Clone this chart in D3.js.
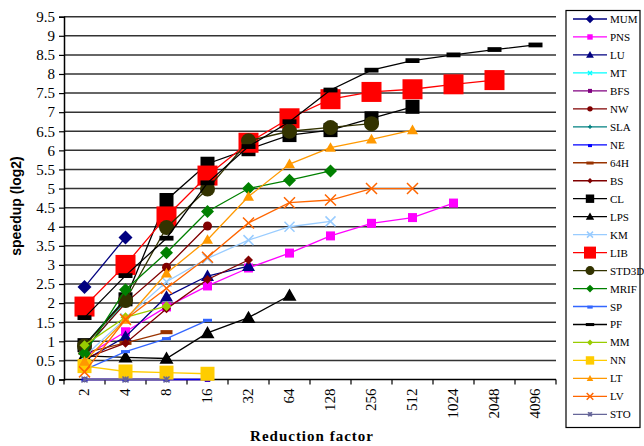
<!DOCTYPE html>
<html>
<head>
<meta charset="utf-8">
<script src="https://cdn.jsdelivr.net/npm/d3@7"></script>
<style>
  html, body { margin: 0; padding: 0; background: #fff; }
  svg { display: block; }
</style>
</head>
<body>
<svg id="chart" width="644" height="446"></svg>
<script>
// Reduction factors on the x axis
const factors = ["2", "4", "8", "16", "32", "64", "128", "256", "512", "1024", "2048", "4096"];
const yTicks = [0, 0.5, 1, 1.5, 2, 2.5, 3, 3.5, 4, 4.5, 5, 5.5, 6, 6.5, 7, 7.5, 8, 8.5, 9, 9.5];

// Speedup (log2) per benchmark, one value per reduction factor starting at 2
const MUM   = [2.42, 3.72];
const PNS   = [0.6, 1.25, 1.9, 2.45, 2.92, 3.31, 3.76, 4.09, 4.24, 4.62];
const LU    = [0.5, 1.12, 2.17, 2.71, 2.97];
const MT    = [0.75, 2.05];
const BFS   = [0, 0, 0, 0];
const NW    = [0.8, 2.0, 2.94, 4.02];
const SLA   = [0.9, 2.12];
const NE    = [0, 0, 0, 0];
const H64   = [0.7, 0.96, 1.24];
const BS    = [0.55, 0.95, 1.85, 2.62, 3.13];
const CL    = [0.9, 2.1, 4.7, 5.65, 6.03, 6.4, 6.53, 6.84, 7.14];
const LPS   = [0.62, 0.58, 0.55, 1.22, 1.62, 2.2];
const KM    = [0.6, 1.6, 2.56, 3.17, 3.65, 4.0, 4.14];
const LIB   = [1.91, 3.0, 4.27, 5.34, 6.2, 6.84, 7.34, 7.53, 7.6, 7.73, 7.84];
const STD3D = [0.88, 2.07, 3.98, 4.99, 6.25, 6.5, 6.6, 6.7];
const MRIF  = [0.68, 2.35, 3.32, 4.4, 5.0, 5.22, 5.46];
const SP    = [0.25, 0.73, 1.07, 1.55];
const PF    = [1.62, 2.72, 3.7, 5.15, 6.1, 6.75, 7.58, 8.1, 8.35, 8.5, 8.64, 8.76];
const MM    = [0.9, 1.63, 1.92];
const NN    = [0.35, 0.21, 0.18, 0.15];
const LT    = [0.47, 1.57, 2.78, 3.66, 4.79, 5.64, 6.07, 6.29, 6.53];
const LV    = [0.2, 1.57, 2.39, 3.2, 4.1, 4.63, 4.7, 5.0, 5.0];
const STO   = [0, 0, 0];

// name, values, line colour, marker kind, marker size
const series = [
  ["MUM", MUM, "#000080", "diamond", 14],
  ["PNS", PNS, "#FF00FF", "square", 9],
  ["LU", LU, "#000080", "triangle", 13],
  ["MT", MT, "#00FFFF", "x", 6],
  ["BFS", BFS, "#800080", "square", 5],
  ["NW", NW, "#800000", "circle", 9],
  ["SLA", SLA, "#008080", "plus", 5],
  ["NE", NE, "#0000FF", "dash", 6],
  ["64H", H64, "#993300", "dash", 12],
  ["BS", BS, "#800000", "diamond", 9],
  ["CL", CL, "#000000", "square", 14],
  ["LPS", LPS, "#000000", "triangle", 14],
  ["KM", KM, "#99CCFF", "x", 10],
  ["LIB", LIB, "#FF0000", "square", 20],
  ["STD3D", STD3D, "#333300", "circle", 15],
  ["MRIF", MRIF, "#008000", "diamond", 13],
  ["SP", SP, "#3366FF", "dash", 9],
  ["PF", PF, "#000000", "dash", 14],
  ["MM", MM, "#99CC00", "diamond", 10],
  ["NN", NN, "#FFCC00", "square", 14],
  ["LT", LT, "#FF9900", "triangle", 11],
  ["LV", LV, "#FF6600", "x", 11],
  ["STO", STO, "#666699", "star", 6]
];

const svg = d3.select("#chart");
const margin = { left: 64, right: 556, top: 16.7, bottom: 379.5 };

const x = d3.scaleBand().domain(factors).range([margin.left, margin.right]).padding(0);
const y = d3.scaleLinear().domain([0, 9.5]).range([margin.bottom, margin.top]);
const cx = f => x(f) + x.bandwidth() / 2;

// horizontal gridlines
svg.append("g").selectAll("line").data(yTicks.slice(1)).join("line")
  .attr("x1", margin.left).attr("x2", margin.right)
  .attr("y1", d => y(d)).attr("y2", d => y(d))
  .attr("stroke", "#333").attr("stroke-width", 1.5);

// y axis
const yAxis = svg.append("g").attr("transform", `translate(${margin.left},0)`)
  .call(d3.axisLeft(y).tickValues(yTicks).tickSize(5).tickPadding(4).tickFormat(d3.format("")));
yAxis.select(".domain").attr("stroke", "#000").attr("stroke-width", 1.5);
yAxis.selectAll(".tick line").attr("stroke", "#000").attr("stroke-width", 1.2);
yAxis.selectAll("text").attr("font-family", "'Liberation Serif', 'Times New Roman', serif")
  .attr("font-size", 15).attr("fill", "#000");

// x axis: ticks at category boundaries, labels rotated
const xg = svg.append("g").attr("transform", `translate(0,${margin.bottom})`);
xg.append("line").attr("x1", margin.left).attr("x2", margin.right)
  .attr("stroke", "#000").attr("stroke-width", 1.5);
xg.selectAll("line.tk").data(factors.concat(["end"])).join("line").attr("class", "tk")
  .attr("x1", (d, i) => margin.left + i * x.step()).attr("x2", (d, i) => margin.left + i * x.step())
  .attr("y1", 0).attr("y2", 5).attr("stroke", "#000").attr("stroke-width", 1.2);
xg.selectAll("text").data(factors).join("text")
  .attr("transform", d => `translate(${cx(d) + 4},9) rotate(-90)`)
  .attr("text-anchor", "end")
  .attr("font-family", "'Liberation Serif', 'Times New Roman', serif")
  .attr("font-size", 15).attr("fill", "#000")
  .text(d => d);

// axis titles
svg.append("text")
  .attr("transform", `translate(21,206) rotate(-90)`)
  .attr("text-anchor", "middle")
  .attr("font-family", "'Liberation Sans', Arial, sans-serif")
  .attr("font-weight", "bold").attr("font-size", 14)
  .text("speedup (log2)");
svg.append("text")
  .attr("x", 312).attr("y", 441)
  .attr("text-anchor", "middle")
  .attr("font-family", "'Liberation Serif', 'Times New Roman', serif")
  .attr("font-weight", "bold").attr("font-size", 15).attr("letter-spacing", 1)
  .text("Reduction factor");

// marker drawing
function drawMarker(g, kind, size, color, px, py) {
  const h = size / 2;
  if (kind === "square") {
    g.append("rect").attr("x", px - h).attr("y", py - h).attr("width", size).attr("height", size).attr("fill", color);
  } else if (kind === "diamond") {
    g.append("path").attr("d", `M${px},${py - h}L${px + h},${py}L${px},${py + h}L${px - h},${py}Z`).attr("fill", color);
  } else if (kind === "triangle") {
    g.append("path").attr("d", `M${px},${py - h}L${px + h},${py + h * 0.75}L${px - h},${py + h * 0.75}Z`).attr("fill", color);
  } else if (kind === "circle") {
    g.append("circle").attr("cx", px).attr("cy", py).attr("r", h).attr("fill", color);
  } else if (kind === "dash") {
    g.append("rect").attr("x", px - h).attr("y", py - size * 0.17).attr("width", size).attr("height", Math.max(3, size * 0.34)).attr("fill", color);
  } else if (kind === "x") {
    g.append("path").attr("d", `M${px - h},${py - h}L${px + h},${py + h}M${px - h},${py + h}L${px + h},${py - h}`)
      .attr("stroke", color).attr("stroke-width", 1.5);
  } else if (kind === "plus") {
    g.append("path").attr("d", `M${px - h},${py}L${px + h},${py}M${px},${py - h}L${px},${py + h}`)
      .attr("stroke", color).attr("stroke-width", 1.5);
  } else if (kind === "star") {
    g.append("path").attr("d", `M${px - h},${py - h}L${px + h},${py + h}M${px - h},${py + h}L${px + h},${py - h}M${px},${py - h}L${px},${py + h}`)
      .attr("stroke", color).attr("stroke-width", 1.5);
  }
}

// series lines and markers
const line = d3.line().x((d, i) => cx(factors[i])).y(d => y(d));
const plot = svg.append("g");
series.forEach(([name, vals, color, kind, size]) => {
  const g = plot.append("g");
  g.append("path").datum(vals).attr("d", line).attr("fill", "none")
    .attr("stroke", color).attr("stroke-width", 1.3);
  vals.forEach((v, i) => drawMarker(g, kind, size, color, cx(factors[i]), y(v)));
});

// legend
const lg = svg.append("g");
lg.append("rect").attr("x", 566).attr("y", 10.5).attr("width", 74).attr("height", 417)
  .attr("fill", "#fff").attr("stroke", "#000").attr("stroke-width", 1.2);
series.forEach(([name, vals, color, kind, size], i) => {
  const ly = 19 + i * 17.97;
  const g = lg.append("g");
  g.append("line").attr("x1", 573).attr("x2", 607).attr("y1", ly).attr("y2", ly)
    .attr("stroke", color).attr("stroke-width", 1.3);
  drawMarker(g, kind, Math.max(4, size * 0.6), color, 590, ly);
  g.append("text").attr("x", 610).attr("y", ly + 4)
    .attr("font-family", "'Liberation Serif', 'Times New Roman', serif")
    .attr("font-size", 11).attr("fill", "#000").text(name);
});
</script>
</body>
</html>
